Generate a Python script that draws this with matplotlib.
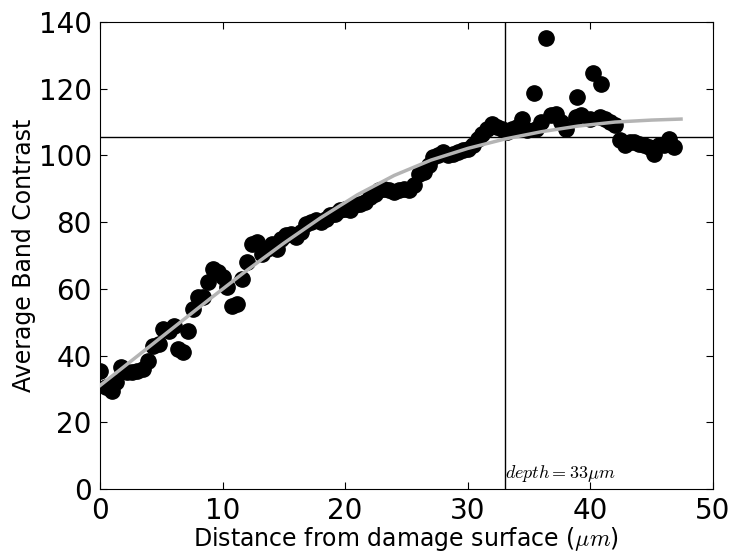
import matplotlib
matplotlib.use("Agg")
import matplotlib.pyplot as plt
import numpy as np

plt.rcParams["mathtext.fontset"] = "cm"

# measured band contrast vs distance
distance = [0.0, 0.5, 1.0, 1.3, 1.7, 2.2, 2.6, 3.0, 3.5, 3.9, 4.3, 4.8, 5.1, 5.6,
            6.0, 6.4, 6.8, 7.2, 7.6, 8.0, 8.4, 8.8, 9.2, 9.6, 10.0, 10.4, 10.8,
            11.2, 11.6, 12.0, 12.4, 12.8, 13.2, 13.6, 14.0, 14.4, 14.8, 15.2,
            15.6, 16.0, 16.4, 16.8, 17.2, 17.6, 18.0, 18.4, 18.8, 19.2, 19.6,
            20.0, 20.4, 20.8, 21.2, 21.6, 22.0, 22.4, 22.8, 23.2, 23.6, 24.0,
            24.4, 24.8, 25.2, 25.6, 26.0, 26.4, 26.8, 27.2, 27.6, 28.0, 28.4,
            28.8, 29.2, 29.6, 30.0, 30.4, 30.8, 31.2, 31.6, 32.0, 32.4, 32.8,
            33.2, 33.6, 34.0, 34.4, 34.8, 35.4, 35.6, 36.0, 36.4, 36.8, 37.2,
            37.6, 38.0, 38.8, 38.9, 39.2, 40.0, 40.2, 40.9, 40.8, 41.2, 41.6,
            42.0, 42.4, 42.8, 43.2, 43.6, 44.0, 44.4, 44.8, 45.2, 45.6, 46.0,
            46.4, 46.8]
contrast = [35.5, 30.5, 29.5, 32.0, 36.5, 35.0, 35.0, 35.5, 36.0, 38.5, 43.0, 43.5,
            48.0, 47.5, 49.0, 42.0, 41.0, 47.5, 54.0, 57.5, 57.5, 62.0, 66.0, 65.0,
            63.5, 60.5, 55.0, 55.5, 63.0, 68.0, 73.5, 74.0, 70.5, 72.0, 73.5, 72.0,
            75.0, 76.0, 76.5, 75.5, 77.0, 79.5, 80.0, 80.5, 80.0, 81.0, 82.0, 82.5,
            83.5, 84.0, 83.5, 85.0, 85.5, 86.0, 87.5, 88.5, 89.5, 90.0, 89.5, 89.0,
            89.5, 90.0, 89.5, 91.0, 94.5, 95.0, 97.0, 99.5, 100.0, 101.0, 100.0,
            100.5, 101.0, 101.5, 102.0, 103.0, 105.0, 106.5, 108.0, 109.5, 108.5,
            108.0, 107.0, 108.0, 108.5, 111.0, 107.5, 118.8, 108.0, 110.0, 135.3,
            112.0, 112.5, 110.0, 108.0, 111.5, 117.6, 112.0, 111.0, 124.6, 121.4,
            111.5, 111.0, 110.0, 109.0, 104.5, 103.0, 104.0, 104.0, 103.5, 103.0,
            102.5, 100.5, 103.0, 103.0, 105.0, 102.5]

# fitted curve
fit_x = [0, 3, 6, 9, 12, 15, 18, 21, 24, 27, 30, 33, 36, 39, 42, 45, 47.4]
fit_y = [31.0, 39.7, 48.4, 57.1, 65.6, 73.7, 81.3, 88.2, 94.0, 98.6, 102.1, 104.9,
         107.1, 108.8, 110.0, 110.6, 110.9]

depth = 33
plateau = 105.5

fig = plt.figure(figsize=(7.38, 5.54), dpi=100)
ax = fig.add_axes([0.1355, 0.1173, 0.8305, 0.8430])

ax.plot(distance, contrast, "o", color="black", ms=11, zorder=2)
ax.plot(fit_x, fit_y, "-", color="#b4b4b4", lw=2.5, zorder=3)
ax.axvline(depth, color="black", lw=1, zorder=1)
ax.axhline(plateau, color="black", lw=1, zorder=1)
ax.text(depth, 1.5, r"$depth=33\mu m$", fontsize=13, ha="left", va="bottom")

ax.set_xlim(0, 50)
ax.set_ylim(0, 140)
ax.set_xticks(np.arange(0, 51, 10))
ax.set_yticks(np.arange(0, 141, 20))
ax.tick_params(direction="in", top=True, right=True, length=5, labelsize=20, pad=6)
ax.set_xlabel(r"Distance from damage surface ($\mu m$)", fontsize=17, labelpad=0)
ax.set_ylabel("Average Band Contrast", fontsize=17, labelpad=2)

fig.savefig("out.png", dpi=100)
